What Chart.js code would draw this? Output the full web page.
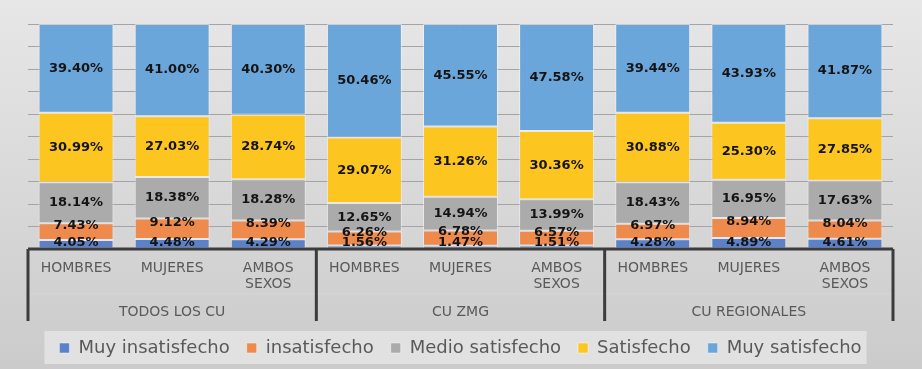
<!DOCTYPE html>
<html>
<head>
<meta charset="utf-8">
<script src="https://cdn.jsdelivr.net/npm/chart.js@4"></script>
<style>
  html, body { margin: 0; padding: 0; }
  body { width: 922px; height: 369px; background: linear-gradient(to bottom, #e7e7e7, #cbcbcb); }
  #wrap { position: relative; width: 922px; height: 369px; }
</style>
</head>
<body>
<div id="wrap"><canvas id="myChart" width="922" height="369"></canvas></div>
<script>
// categories (two levels)
const categories = [['HOMBRES'], ['MUJERES'], ['AMBOS', 'SEXOS'],
                    ['HOMBRES'], ['MUJERES'], ['AMBOS', 'SEXOS'],
                    ['HOMBRES'], ['MUJERES'], ['AMBOS', 'SEXOS']];
const groups = ['TODOS LOS CU', 'CU ZMG', 'CU REGIONALES'];

// series values (%)
const muyInsatisfecho = [4.05, 4.48, 4.29, 1.56, 1.47, 1.51, 4.28, 4.89, 4.61];
const insatisfecho    = [7.43, 9.12, 8.39, 6.26, 6.78, 6.57, 6.97, 8.94, 8.04];
const medioSatisfecho = [18.14, 18.38, 18.28, 12.65, 14.94, 13.99, 18.43, 16.95, 17.63];
const satisfecho      = [30.99, 27.03, 28.74, 29.07, 31.26, 30.36, 30.88, 25.30, 27.85];
const muySatisfecho   = [39.40, 41.00, 40.30, 50.46, 45.55, 47.58, 39.44, 43.93, 41.87];

const seriesNames = ['Muy insatisfecho', 'insatisfecho', 'Medio satisfecho', 'Satisfecho', 'Muy satisfecho'];
const seriesColors = ['#5a81c9', '#ee8a4b', '#ababab', '#fcc520', '#6ba6da'];
const seriesData = [muyInsatisfecho, insatisfecho, medioSatisfecho, satisfecho, muySatisfecho];

const textGrey = '#595959';

// labels inside the segments
const segmentLabels = {
    id: 'segmentLabels',
    afterDatasetsDraw(chart) {
        const ctx = chart.ctx;
        ctx.save();
        ctx.font = 'bold 13px "DejaVu Sans"';
        ctx.fillStyle = '#141414';
        ctx.textAlign = 'center';
        ctx.textBaseline = 'middle';
        chart.data.datasets.forEach((ds, i) => {
            const meta = chart.getDatasetMeta(i);
            meta.data.forEach((bar, j) => {
                const p = bar.getProps(['x', 'y', 'base'], true);
                let y = (p.y + p.base) / 2;
                if (i === 0) y = p.base - 6;
                if (i === 1) y = y - 6;
                ctx.fillText(ds.data[j].toFixed(2) + '%', p.x, y);
            });
        });
        ctx.restore();
    }
};

// axis line, group separators, group names, legend panel
const groupAxis = {
    id: 'groupAxis',
    beforeDraw(chart) {
        const lg = chart.legend;
        if (!lg || !lg.legendHitBoxes.length) return;
        const ctx = chart.ctx;
        const first = lg.legendHitBoxes[0];
        const last = lg.legendHitBoxes[lg.legendHitBoxes.length - 1];
        ctx.save();
        ctx.fillStyle = '#e1e1e1';
        ctx.fillRect(first.left - 15, 331, last.left + last.width - first.left + 20, 33);
        ctx.restore();
    },
    afterDraw(chart) {
        const ctx = chart.ctx;
        const x = chart.scales.x;
        const area = chart.chartArea;
        const step = x.getPixelForValue(1) - x.getPixelForValue(0);
        const bottom = area.bottom + 72;
        ctx.save();
        ctx.strokeStyle = 'rgba(255,255,255,0.15)';
        ctx.lineWidth = 1;
        ctx.beginPath();
        ctx.moveTo(area.left, area.bottom + 45);
        ctx.lineTo(area.right, area.bottom + 45);
        ctx.stroke();

        ctx.strokeStyle = '#3c3c3c';
        ctx.lineWidth = 3;
        ctx.beginPath();
        ctx.moveTo(area.left, area.bottom);
        ctx.lineTo(area.right, area.bottom);
        for (let g = 0; g <= groups.length; g++) {
            const px = x.getPixelForValue(g * 3) - step / 2;
            ctx.moveTo(px, area.bottom);
            ctx.lineTo(px, bottom);
        }
        ctx.stroke();

        ctx.font = '14px "DejaVu Sans"';
        ctx.fillStyle = textGrey;
        ctx.textAlign = 'center';
        ctx.textBaseline = 'middle';
        groups.forEach((name, g) => {
            const px = x.getPixelForValue(g * 3 + 1);
            ctx.fillText(name, px, area.bottom + 63);
        });
        ctx.restore();
    }
};

const data = {
    labels: categories,
    datasets: seriesNames.map((name, i) => ({
        label: name,
        data: seriesData[i],
        backgroundColor: seriesColors[i],
        borderColor: 'rgba(255,255,255,0.45)',
        borderWidth: 1,
        borderSkipped: false,
        categoryPercentage: 1,
        barPercentage: 0.78
    }))
};

const config = {
    type: 'bar',
    data: data,
    options: {
        responsive: false,
        animation: false,
        layout: { padding: { top: 24, left: 28, right: 29, bottom: 2 } },
        plugins: {
            tooltip: { enabled: false },
            legend: {
                position: 'bottom',
                labels: {
                    boxWidth: 10,
                    boxHeight: 10,
                    padding: 17,
                    color: textGrey,
                    font: { family: '"DejaVu Sans"', size: 18 }
                }
            }
        },
        scales: {
            x: {
                stacked: true,
                grid: { display: false, drawTicks: false },
                border: { display: false },
                ticks: {
                    color: textGrey,
                    font: { family: '"DejaVu Sans"', size: 14 },
                    padding: 10.5,
                    maxRotation: 0,
                    autoSkip: false
                },
                afterFit(scale) { scale.height = 73; }
            },
            y: {
                stacked: true,
                min: 0,
                max: 100,
                ticks: { display: false, stepSize: 10 },
                grid: { color: '#a4a4a4', drawTicks: false },
                border: { display: false }
            }
        }
    },
    plugins: [groupAxis, segmentLabels]
};

const myChart = new Chart(document.getElementById('myChart'), config);
</script>
</body>
</html>
